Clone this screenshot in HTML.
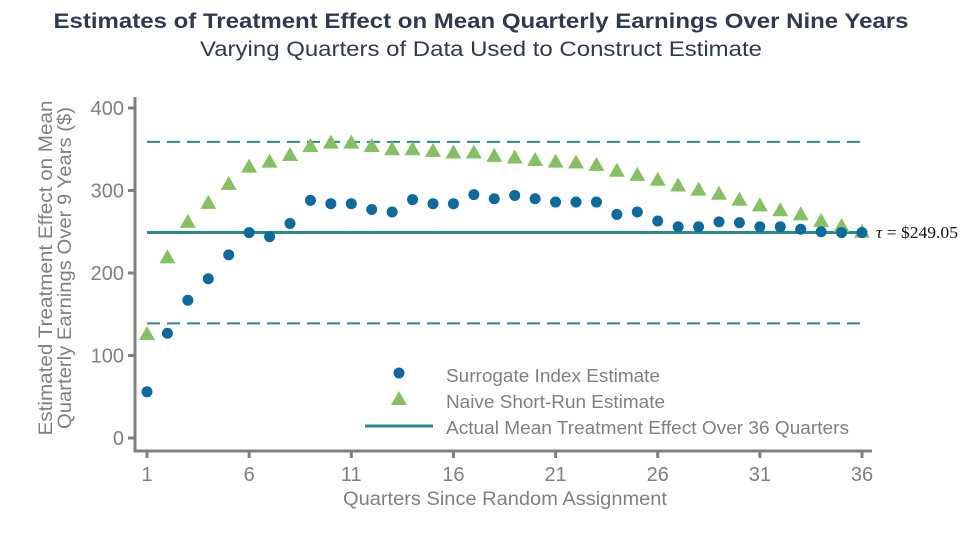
<!DOCTYPE html>
<html><head><meta charset="utf-8"><style>
body{margin:0;background:#fff;width:960px;height:540px;overflow:hidden}
svg text{font-family:"Liberation Sans",Arial,sans-serif}
</style></head><body>
<svg width="960" height="540" id="chart">
<text x="481" y="28" text-anchor="middle" font-size="21" font-weight="bold" fill="#2f3a4f" textLength="855" lengthAdjust="spacingAndGlyphs">Estimates of Treatment Effect on Mean Quarterly Earnings Over Nine Years</text>
<text x="481" y="56" text-anchor="middle" font-size="21" fill="#2f3a4f" textLength="562" lengthAdjust="spacingAndGlyphs">Varying Quarters of Data Used to Construct Estimate</text>
<g transform="translate(55,268) rotate(-90)" font-size="19" fill="#808080" text-anchor="middle">
<text x="0" y="-3" textLength="335" lengthAdjust="spacingAndGlyphs">Estimated Treatment Effect on Mean</text>
<text x="0" y="16" textLength="322" lengthAdjust="spacingAndGlyphs">Quarterly Earnings Over 9 Years ($)</text>
</g>
<text x="505" y="505" text-anchor="middle" font-size="19" fill="#808080" textLength="324" lengthAdjust="spacingAndGlyphs">Quarters Since Random Assignment</text>
<line x1="135" y1="97" x2="135" y2="452" stroke="#808080" stroke-width="3"/>
<line x1="134" y1="451" x2="872" y2="451" stroke="#808080" stroke-width="3"/>
<g id="yticks"></g><g id="xticks"></g><g id="refs"></g><g id="marks"></g>
<g>
<circle cx="399" cy="373" r="5.5" fill="#0d6a9c"/>
<polygon points="399,391 407,405 391,405" fill="#85c163"/>
<line x1="365" y1="426" x2="433" y2="426" stroke="#2e8a8a" stroke-width="3"/>
<text x="446" y="382" font-size="18" fill="#808080" textLength="214" lengthAdjust="spacingAndGlyphs">Surrogate Index Estimate</text>
<text x="446" y="408" font-size="18" fill="#808080" textLength="219" lengthAdjust="spacingAndGlyphs">Naive Short-Run Estimate</text>
<text x="446" y="434" font-size="18" fill="#808080" textLength="403" lengthAdjust="spacingAndGlyphs">Actual Mean Treatment Effect Over 36 Quarters</text>
</g>
<text x="876" y="238" font-size="17" fill="#111" style="font-family:'Liberation Serif',serif" textLength="82" lengthAdjust="spacingAndGlyphs"><tspan font-style="italic">τ</tspan> = $249.05</text>
</svg>
<script>
const quarters=[];for(let q=1;q<=36;q++)quarters.push(q);
const surrogate=[56,127,167,193,222,249,244,260,288,284,284,277,274,289,284,284,295,290,294,290,286,286,286,271,274,263,256,256,262,261,256,256,253,250,249,249];
const naive=[126,219,262,285,308,329,335,343,354,358,358,354,350,350,348,346,346,342,340,337,335,334,331,324,319,313,306,301,296,289,282,276,271,263,257,250];
const actual=[249.05];
const ciBounds=[359,139];
const yTicks=[0,100,200,300,400];
const xTicks=[1,6,11,16,21,26,31,36];
const NS="http://www.w3.org/2000/svg";
const X=q=>147+(q-1)*(862-147)/35;
const Y=v=>438-v*(438-108)/400;
function mk(tag,attrs,parent){const e=document.createElementNS(NS,tag);for(const k in attrs)e.setAttribute(k,attrs[k]);document.getElementById(parent).appendChild(e);return e;}
yTicks.forEach(v=>{
 const l=mk('line',{x1:128,x2:135,y1:Y(v),y2:Y(v),stroke:'#808080','stroke-width':3},'yticks');
 
 
 const t=mk('text',{x:124,y:Y(v)+7,'text-anchor':'end','font-size':20,fill:'#808080'},'yticks');t.textContent=v;
 
 
});
xTicks.forEach(q=>{
 const l=mk('line',{x1:X(q),x2:X(q),y1:451,y2:458,stroke:'#808080','stroke-width':3},'xticks');
 
 
 const t=mk('text',{x:X(q),y:481,'text-anchor':'middle','font-size':20,fill:'#808080'},'xticks');t.textContent=q;
 
 
});
ciBounds.forEach(v=>{
 const l=mk('line',{x1:147,x2:862,y1:Y(v),y2:Y(v),stroke:'#2e8a8a','stroke-width':2,'stroke-dasharray':'13 7'},'refs');
 
 
});
const al=mk('line',{x1:147,x2:862,y1:Y(actual[0]),y2:Y(actual[0]),stroke:'#2e8a8a','stroke-width':3},'refs');


quarters.forEach((q,i)=>{
 const x=X(q),y=Y(naive[i]);
 const p=mk('polygon',{points:`${x},${y-8} ${x+8},${y+6} ${x-8},${y+6}`,fill:'#85c163'},'marks');
 
 
 const c=mk('circle',{cx:x,cy:Y(surrogate[i]),r:5.5,fill:'#0d6a9c'},'marks');
 
 
});
</script>
</body></html>
